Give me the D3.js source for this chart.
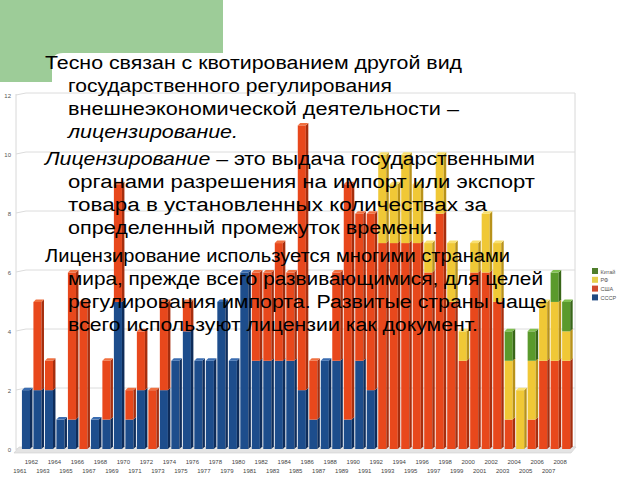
<!DOCTYPE html>
<html><head><meta charset="utf-8">
<script src="https://cdn.jsdelivr.net/npm/d3@7/dist/d3.min.js"></script>
<style>html,body{margin:0;padding:0;background:#fff;}svg{display:block;}</style>
</head><body>
<svg id="chart" width="640" height="480"></svg>
<script>
const years = d3.range(1961, 2009);
const ussr = [2,2,2,1,1,0,1,1,5,1,2,0,2,3,4,3,3,5,3,6,3,3,3,3,2,1,3,3,1,3,2,
              0,0,0,0,0,0,0,0,0,0,0,0,0,0,0,0,0];
const usa  = [0,3,1,0,5,5,0,2,4,1,2,2,3,0,1,0,0,0,0,0,3,3,4,3,9,2,0,3,8,5,6,
              7,7,7,7,6,8,5,3,6,6,5,1,0,1,3,3,3];
const rf   = [0,0,0,0,0,0,0,0,0,0,0,0,0,0,0,0,0,0,0,0,0,0,0,0,0,0,0,0,0,0,0,
              3,2,3,2,1,2,2,1,1,2,2,2,2,2,2,2,1];
const china= [0,0,0,0,0,0,0,0,0,0,0,0,0,0,0,0,0,0,0,0,0,0,0,0,0,0,0,0,0,0,0,
              0,0,0,0,0,0,0,0,0,0,0,1,0,1,0,1,1];
const seriesKeys = ["СССР","США","РФ","Китай"];
const legendOrder = ["Китай","РФ","США","СССР"];
const yTicks = [0,2,4,6,8,10,12];

const paragraphs = [
  [ [{t:"Тесно связан с квотированием другой вид"}],
    [{t:"государственного регулирования"}],
    [{t:"внешнеэкономической деятельности –"}],
    [{t:"лицензирование.", i:true}] ],
  [ [{t:"Лицензирование", i:true},{t:" – это выдача государственными"}],
    [{t:"органами разрешения на импорт или экспорт"}],
    [{t:"товара в установленных количествах за"}],
    [{t:"определенный промежуток времени."}] ],
  [ [{t:"Лицензирование используется многими странами"}],
    [{t:"мира, прежде всего развивающимися, для целей"}],
    [{t:"регулирования импорта. Развитые страны чаще"}],
    [{t:"всего используют лицензии как документ."}] ]
];
// layout: rendered width of each text line (px)
const lineWidths = [[417,324,391,170],[490,467,419,370],[465,475,479,410]];

const front = {"СССР":"#1d4d8c","США":"#e8481c","РФ":"#f0c836","Китай":"#5a9a2c"};
const side  = {"СССР":"#0e2c5a","США":"#a62e0e","РФ":"#b8921a","Китай":"#386618"};
const topC  = {"СССР":"#3a6cb0","США":"#f07040","РФ":"#f8e070","Китай":"#80c050"};
const legC  = {"Китай":"#4f7e2c","РФ":"#e6cf4c","США":"#d04a2e","СССР":"#1f4a82"};

const svg = d3.select("#chart");

// green decoration
svg.append("path")
  .attr("d","M0,0 H223 V53 H63 Q52,53 52,64 V82 H0 Z")
  .attr("fill","#9dcc98");

const y = d3.scaleLinear().domain([0,12]).range([449, 96]);
const yGrid = d3.scaleLinear().domain([0,12]).range([447, 93]);
const x = d3.scaleBand().domain(years).range([21.7, 572.7]).paddingInner(0.1).paddingOuter(0.02);

// walls / grid
const g = svg.append("g");
g.append("path").attr("d", `M16,${yGrid(12)+1} V${yGrid(0)+3}`).attr("stroke","#d8d8d8").attr("fill","none");
g.append("path").attr("d", `M575,${yGrid(12)} V${yGrid(0)}`).attr("stroke","#d8d8d8").attr("fill","none");
g.selectAll("path.grid").data(yTicks).join("path").attr("class","grid")
  .attr("d", d => `M16,${yGrid(d)+2} L26,${yGrid(d)} H575`)
  .attr("stroke","#dcdcdc").attr("fill","none");
// floor
g.append("path").attr("d", `M14,${yGrid(0)+6} H571 L576,${yGrid(0)} H19 Z`).attr("fill","#e4e4e4").attr("stroke","#cfcfcf").attr("stroke-width",0.6);

// y labels
svg.append("g").selectAll("text").data(yTicks).join("text")
  .attr("x", 11).attr("y", d => yGrid(d) + 5)
  .attr("text-anchor","end").attr("font-family","Liberation Sans, Arial, sans-serif")
  .attr("font-size", 6).attr("fill","#555").text(d => d);

// x labels
svg.append("g").selectAll("text").data(years).join("text")
  .attr("x", d => x(d) - 2)
  .attr("y", d => (d % 2 === 0) ? 464 : 473)
  .attr("text-anchor","middle").attr("font-family","Liberation Sans, Arial, sans-serif")
  .attr("font-size", 6).attr("fill","#444").text(d => d);

// bars
const table = years.map((yr,i) => ({year:yr, "СССР":ussr[i], "США":usa[i], "РФ":rf[i], "Китай":china[i]}));
const stacked = d3.stack().keys(seriesKeys)(table);
const bw = x.bandwidth();
const fw = bw * 0.78, dd = bw * 0.24, dy = 2.5;
const bars = svg.append("g");
table.forEach((row, i) => {
  const x0 = x(row.year);
  let topKey = null, topVal = 0;
  stacked.forEach(s => {
    const d = s[i];
    if (d[1] - d[0] <= 0) return;
    topKey = s.key; topVal = d[1];
    const yb = y(d[0]), yt = y(d[1]);
    bars.append("rect").attr("x", x0).attr("y", yt).attr("width", fw).attr("height", yb - yt)
      .attr("fill", front[s.key]);
    bars.append("path")
      .attr("d", `M${x0+fw},${yb} L${x0+fw+dd},${yb-dy} L${x0+fw+dd},${yt-dy} L${x0+fw},${yt} Z`)
      .attr("fill", side[s.key]);
  });
  if (topKey) {
    const yt = y(topVal);
    bars.append("path")
      .attr("d", `M${x0},${yt} L${x0+dd},${yt-dy} L${x0+fw+dd},${yt-dy} L${x0+fw},${yt} Z`)
      .attr("fill", topC[topKey]);
  }
});

// legend
const leg = svg.append("g").attr("transform","translate(592,268)");
legendOrder.forEach((k, i) => {
  leg.append("rect").attr("x",0).attr("y", i*8.8).attr("width",6).attr("height",6).attr("fill", legC[k]);
  leg.append("text").attr("x",8.5).attr("y", i*8.8 + 5.5).attr("font-size",5.5)
    .attr("font-family","Liberation Sans, Arial, sans-serif").attr("fill","#555").text(k);
});

// text overlay
const tg = svg.append("g").attr("font-family","Liberation Sans, Arial, sans-serif").attr("font-size",18).attr("fill","#000");
const paraStart = [69, 165, 262];
const lineH = 23;
paragraphs.forEach((p, pi) => {
  p.forEach((line, li) => {
    const t = tg.append("text")
      .attr("x", li === 0 ? 45 : 68).attr("y", paraStart[pi] + li*lineH)
      .attr("textLength", lineWidths[pi][li]).attr("lengthAdjust", "spacingAndGlyphs");
    line.forEach(seg => {
      t.append("tspan").attr("font-style", seg.i ? "italic" : "normal").text(seg.t);
    });
  });
});
</script>
</body></html>
